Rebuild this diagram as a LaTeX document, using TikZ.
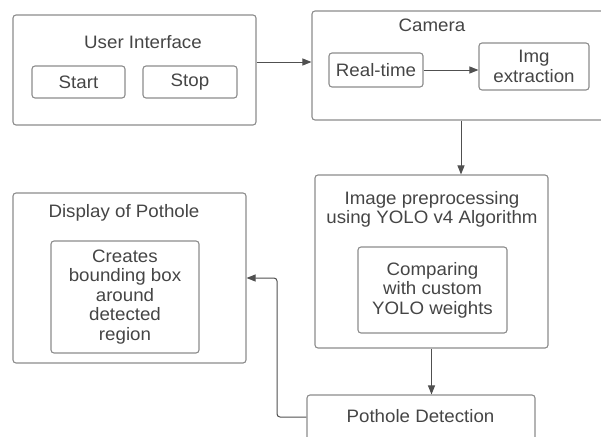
\documentclass[tikz,border=0pt]{standalone}
\usepackage{fontspec}
\setmainfont[FakeStretch=1.04]{Liberation Sans}
\usetikzlibrary{arrows.meta}
\definecolor{boxline}{HTML}{8C8C8C}
\definecolor{txt}{HTML}{454545}
\definecolor{conn}{HTML}{505050}
\begin{document}
\begin{tikzpicture}[x=1pt,y=-1pt,
  box/.style={draw=boxline, line width=1.1pt, rounded corners=3pt, inner sep=0pt, align=center, text=txt},
  lbl/.style={text=txt, align=center, inner sep=0pt},
  arr/.style={draw=conn, line width=1pt, -{Triangle[length=9pt,width=7pt]}},
  every node/.style={font=\fontsize{18}{19.5}\selectfont}]
\useasboundingbox (0,0) rectangle (601,436);
\clip (0,0) rectangle (601,436);
% User interface
\node[box, minimum width=243pt, minimum height=110pt] (ui) at (134.5,70) {};
\node[lbl] (uit) at (143,42) {User Interface};
\node[box, minimum width=93pt, minimum height=32pt] (start) at (78.5,82) {Start};
\node[box, minimum width=94pt, minimum height=32pt] (stop) at (190,82) {Stop};
% Camera
\node[box, minimum width=298pt, minimum height=109pt] (cam) at (461,65.5) {};
\node[lbl] (camt) at (432,25) {Camera};
\node[box, minimum width=94pt, minimum height=34pt] (rt) at (376,70) {Real-time};
\node[box, minimum width=110pt, minimum height=47pt] (img) at (534,66.5) {Img\\extraction};
% Preprocessing
\node[box, minimum width=233pt, minimum height=173pt] (pre) at (431.5,261.5) {};
\node[lbl] (pret) at (432,209.5) {Image preprocessing\\using YOLO v4 Algorithm};
\node[box, minimum width=149pt, minimum height=86pt] (cmp) at (432.5,290) {Comparing\\with custom\\YOLO weights};
% Pothole detection
\node[box, minimum width=228pt, minimum height=60pt] (pd) at (421,425) {};
\node[lbl] (pdt) at (420.5,416) {Pothole Detection};
% Display
\node[box, minimum width=233pt, minimum height=170pt] (disp) at (129.5,278) {};
\node[lbl] (dispt) at (124,213) {Display of Pothole};
\node[box, minimum width=148pt, minimum height=112pt] (bb) at (125,297) {Creates\\bounding box\\around\\detected\\region};
% Connectors
\coordinate (a1) at ([yshift=8pt]ui.east);
\draw[arr] (a1) -- (a1 -| cam.west);
\draw[arr] (rt.east) -- (rt.east -| img.west);
\draw[arr] (cam.south) -- (cam.south |- pre.north);
\draw[arr] (pre.south) -- (pre.south |- pd.north);
\coordinate (a2) at (pd.west |- 0,417);
\draw[arr, rounded corners=3pt] (a2) -- (277,417) |- (disp.east);
\end{tikzpicture}
\end{document}
